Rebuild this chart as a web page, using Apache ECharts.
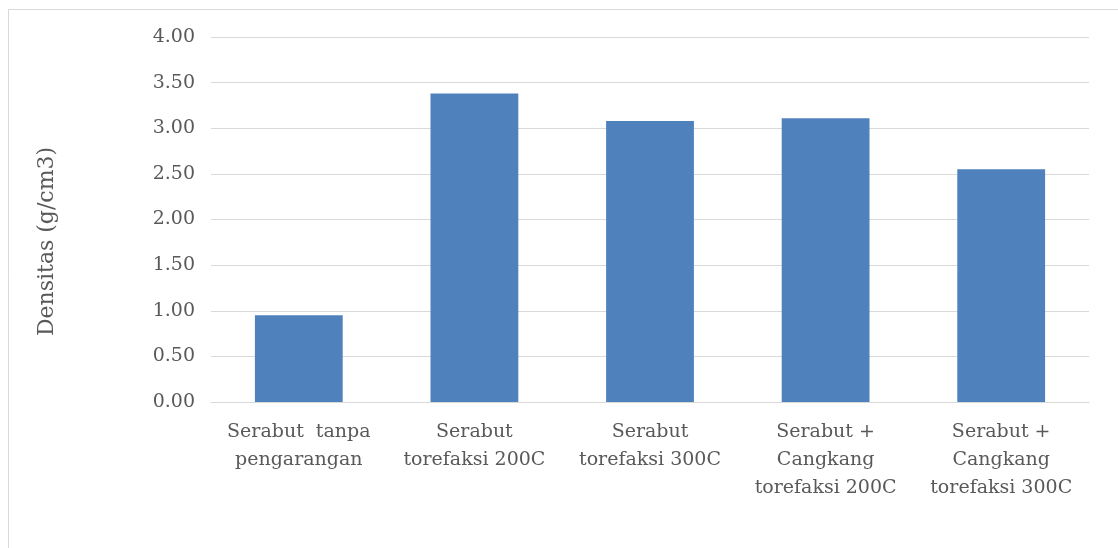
<!DOCTYPE html>
<html><head><meta charset="utf-8">
<script src="https://cdn.jsdelivr.net/npm/echarts@6/dist/echarts.min.js"></script>
<style>html,body{margin:0;padding:0;background:#fff}#c{width:1118px;height:548px}</style>
</head><body><div id="c"></div>
<script>
const categories = ["Serabut  tanpa\npengarangan", "Serabut\ntorefaksi 200C", "Serabut\ntorefaksi 300C", "Serabut +\nCangkang\ntorefaksi 200C", "Serabut +\nCangkang\ntorefaksi 300C"];
const densitas = [0.95, 3.38, 3.08, 3.11, 2.55];
const yTicks = {min: 0, max: 4, interval: 0.5};
const yName = "Densitas (g/cm3)";

const FONT = "'DejaVu Serif', serif";
const chart = echarts.init(document.getElementById('c'), null, {renderer: 'canvas'});
chart.setOption({
  animation: false,
  backgroundColor: '#fff',
  graphic: [{type: 'rect', shape: {x: 8.5, y: 9.5, width: 1120, height: 560}, style: {fill: 'none', stroke: '#d9d9d9', lineWidth: 1}}],
  grid: {left: 211, right: 29, top: 37, bottom: 146},
  xAxis: {
    type: 'category', data: categories,
    axisLine: {lineStyle: {color: '#d9d9d9', width: 1}},
    axisTick: {show: false},
    axisLabel: {color: '#595959', fontFamily: FONT, fontSize: 19, lineHeight: 28, margin: 16, interval: 0}
  },
  yAxis: {
    type: 'value', min: yTicks.min, max: yTicks.max, interval: yTicks.interval,
    name: yName, nameLocation: 'middle', nameGap: 153, nameRotate: 90,
    nameTextStyle: {color: '#595959', fontFamily: FONT, fontSize: 22, padding: [0, 44, 0, 0]},
    axisLine: {show: false}, axisTick: {show: false},
    axisLabel: {color: '#595959', fontFamily: FONT, fontSize: 19, margin: 16, formatter: v => v.toFixed(2)},
    splitLine: {lineStyle: {color: '#d9d9d9', width: 1}}
  },
  series: [{type: 'bar', data: densitas, barWidth: '50%', itemStyle: {color: '#4f81bd'}}]
});
</script></body></html>
